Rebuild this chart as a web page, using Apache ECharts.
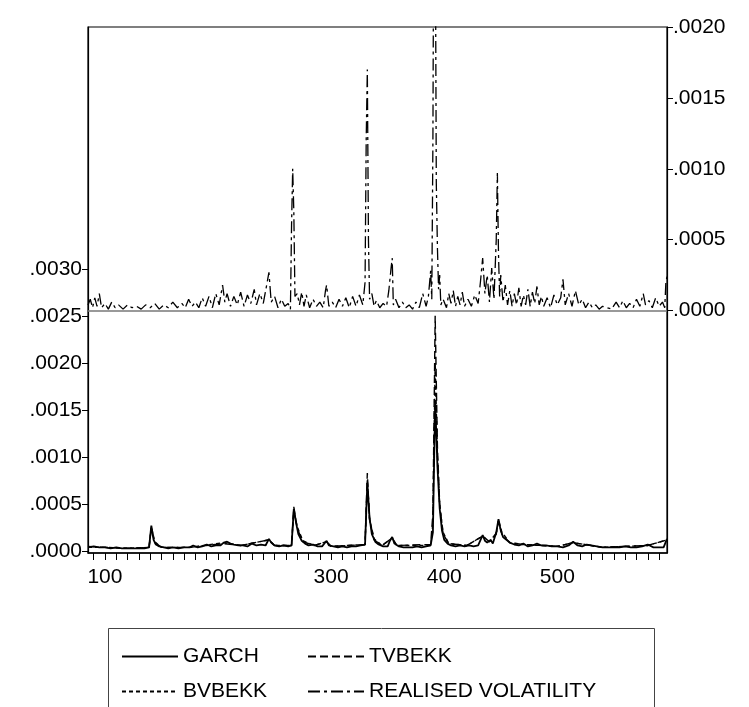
<!DOCTYPE html>
<html>
<head>
<meta charset="utf-8">
<script src="https://cdn.jsdelivr.net/npm/echarts@6/dist/echarts.min.js"></script>
<style>html,body{margin:0;padding:0;background:#fff}#chart{width:749px;height:707px}</style>
</head>
<body>
<div id="chart"></div>
<script>
// volatility panels: realised (top, right axis) vs model forecasts (bottom, left axis)
var leftTicks = [0, 0.0005, 0.001, 0.0015, 0.002, 0.0025, 0.003];
var rightTicks = [0, 0.0005, 0.001, 0.0015, 0.002];
var xLabels = [100, 200, 300, 400, 500];
var xMinorTicks = [90,100,110,120,130,140,150,160,170,180,190,200,210,220,230,240,250,260,270,280,290,300,310,320,330,340,350,360,370,380,390,400,410,420,430,440,450,460,470,480,490,500,510,520,530,540,550,560,570,580,590];

var realised = [
[85,0.00004],[87,0.00008],[89,0.00002],[91,0.00009],[93,0.00003],[95,0.00012],[97,0.00002],[100,0.00005],[103,0.00001],[106,0.00006],[109,0.00002],[112,0.00004],[116,0.00001],[120,0.00004],[124,0.00002],[128,0.00003],[132,0.00001],[136,0.00004],[140,0.00002],[144,0.00005],[148,0.00001],[152,0.00004],[156,0.00002],[160,0.00006],[164,0.00002],[168,0.00005],[171,0.00002],[174,0.00008],[177,0.00003],[180,0.00006],[183,0.00002],[186,0.00009],[189,0.00003],[192,0.00010],[195,0.00002],[198,0.00012],[201,0.00004],[204,0.00018],[206,0.00006],[208,0.00012],[211,0.00003],[214,0.00010],[217,0.00004],[220,0.00013],[223,0.00003],[226,0.00011],[229,0.00005],[232,0.00015],[234,0.00004],[237,0.00012],[240,0.00005],[243,0.00018],[245,0.00027],[247,0.00006],[250,0.00010],[253,0.00002],[256,0.00008],[259,0.00003],[262,0.00005],[264,0.00001],[265,0.00060],[266,0.00100],[267,0.00070],[268,0.00010],[270,0.00012],[272,0.00004],[274,0.00013],[276,0.00003],[278,0.00011],[281,0.00002],[284,0.00008],[287,0.00003],[290,0.00006],[293,0.00002],[295,0.00014],[296,0.00018],[298,0.00003],[301,0.00006],[304,0.00002],[307,0.00008],[310,0.00003],[313,0.00009],[316,0.00002],[319,0.00010],[322,0.00003],[325,0.00011],[328,0.00004],[330,0.00020],[331,0.00120],[332,0.00170],[333,0.00050],[334,0.00008],[336,0.00012],[338,0.00003],[340,0.00007],[343,0.00002],[346,0.00005],[349,0.00003],[351,0.00014],[353,0.00030],[354,0.00037],[355,0.00004],[357,0.00008],[360,0.00002],[363,0.00006],[366,0.00002],[369,0.00004],[372,0.00001],[375,0.00006],[378,0.00002],[381,0.00012],[384,0.00003],[386,0.00010],[388,0.00028],[389,0.00008],[390,0.00120],[391,0.00350],[392,0.00300],[393,0.00090],[394,0.00044],[395,0.00015],[396,0.00025],[397,0.00004],[399,0.00008],[402,0.00002],[404,0.00012],[406,0.00005],[408,0.00014],[410,0.00003],[412,0.00010],[414,0.00004],[416,0.00013],[418,0.00003],[421,0.00008],[424,0.00003],[427,0.00011],[430,0.00005],[432,0.00020],[434,0.00037],[436,0.00012],[438,0.00025],[440,0.00006],[442,0.00030],[444,0.00008],[446,0.00050],[447,0.00097],[448,0.00040],[449,0.00010],[450,0.00025],[452,0.00006],[454,0.00018],[456,0.00004],[458,0.00014],[460,0.00003],[462,0.00012],[464,0.00004],[466,0.00016],[468,0.00003],[470,0.00011],[472,0.00004],[474,0.00015],[476,0.00003],[478,0.00013],[480,0.00005],[482,0.00017],[484,0.00004],[486,0.00010],[488,0.00003],[491,0.00009],[494,0.00002],[497,0.00011],[500,0.00004],[503,0.00009],[505,0.00022],[507,0.00004],[510,0.00012],[513,0.00003],[516,0.00014],[519,0.00004],[522,0.00008],[525,0.00002],[528,0.00006],[531,0.00002],[534,0.00004],[537,0.00001],[540,0.00003],[544,0.00002],[548,0.00001],[552,0.00006],[555,0.00002],[558,0.00007],[561,0.00002],[564,0.00005],[567,0.00002],[570,0.00008],[573,0.00003],[576,0.00012],[578,0.00004],[581,0.00007],[584,0.00002],[587,0.00009],[590,0.00003],[593,0.00006],[595,0.00002],[596,0.00020],[597,0.00024]
];

var garch = [
[85,0.00004],[90,0.00005],[95,0.00004],[100,0.00004],[105,0.00003],[110,0.00004],[115,0.00003],[120,0.00003],[125,0.00003],[130,0.00003],[135,0.00003],[139,0.00004],[141,0.00027],[143,0.00012],[145,0.00007],[148,0.00005],[152,0.00004],[156,0.00003],[160,0.00004],[165,0.00003],[170,0.00004],[175,0.00004],[178,0.00006],[182,0.00004],[186,0.00005],[190,0.00007],[194,0.00005],[198,0.00006],[202,0.00006],[205,0.00009],[208,0.00010],[211,0.00008],[214,0.00007],[218,0.00006],[222,0.00006],[226,0.00005],[230,0.00008],[234,0.00006],[238,0.00007],[242,0.00006],[245,0.00013],[247,0.00009],[250,0.00006],[254,0.00005],[258,0.00006],[262,0.00005],[265,0.00006],[267,0.00045],[269,0.00030],[271,0.00018],[274,0.00011],[277,0.00008],[280,0.00006],[284,0.00007],[288,0.00005],[292,0.00005],[296,0.00011],[298,0.00006],[302,0.00005],[306,0.00004],[310,0.00005],[314,0.00004],[318,0.00005],[322,0.00005],[326,0.00006],[330,0.00007],[332,0.00072],[334,0.00035],[336,0.00018],[339,0.00010],[342,0.00007],[346,0.00005],[350,0.00005],[352,0.00011],[354,0.00015],[356,0.00008],[360,0.00005],[364,0.00004],[368,0.00004],[372,0.00004],[376,0.00005],[380,0.00004],[384,0.00005],[388,0.00006],[390,0.00020],[392,0.00160],[394,0.00090],[396,0.00045],[398,0.00022],[400,0.00012],[403,0.00008],[406,0.00006],[410,0.00005],[414,0.00006],[418,0.00005],[422,0.00006],[426,0.00005],[430,0.00006],[434,0.00017],[436,0.00011],[438,0.00009],[441,0.00012],[443,0.00008],[446,0.00020],[448,0.00034],[450,0.00022],[452,0.00015],[455,0.00012],[458,0.00009],[462,0.00007],[466,0.00006],[470,0.00008],[474,0.00005],[478,0.00006],[482,0.00008],[486,0.00006],[490,0.00006],[495,0.00005],[500,0.00005],[505,0.00004],[510,0.00006],[514,0.00010],[518,0.00006],[522,0.00005],[526,0.00007],[530,0.00006],[535,0.00005],[540,0.00004],[545,0.00004],[550,0.00004],[555,0.00004],[560,0.00005],[565,0.00004],[570,0.00004],[575,0.00005],[580,0.00007],[585,0.00004],[590,0.00004],[594,0.00004],[597,0.00013]
];

var tvbekk = [
[85,0.00005],[100,0.00004],[120,0.00003],[139,0.00004],[141,0.00025],[144,0.00009],[150,0.00004],[175,0.00004],[205,0.00008],[220,0.00006],[245,0.00012],[250,0.00006],[265,0.00006],[267,0.00047],[270,0.00024],[275,0.00010],[285,0.00006],[296,0.00010],[300,0.00005],[330,0.00007],[332,0.00083],[334,0.00033],[338,0.00012],[345,0.00006],[354,0.00014],[358,0.00006],[388,0.00007],[390,0.00040],[392,0.00250],[394,0.00110],[396,0.00050],[399,0.00018],[404,0.00008],[420,0.00006],[434,0.00016],[440,0.00010],[446,0.00018],[448,0.00032],[451,0.00018],[458,0.00009],[470,0.00007],[500,0.00005],[514,0.00009],[540,0.00004],[580,0.00006],[597,0.00012]
];

var bvbekk = [
[85,0.00004],[100,0.00004],[120,0.00003],[139,0.00004],[141,0.00026],[144,0.00010],[150,0.00004],[175,0.00004],[205,0.00009],[220,0.00006],[245,0.00012],[250,0.00006],[265,0.00006],[267,0.00044],[270,0.00026],[275,0.00011],[285,0.00006],[296,0.00010],[300,0.00005],[330,0.00007],[332,0.00076],[334,0.00034],[338,0.00013],[345,0.00006],[354,0.00014],[358,0.00006],[388,0.00006],[390,0.00030],[392,0.00200],[394,0.00100],[396,0.00048],[399,0.00020],[404,0.00008],[420,0.00006],[434,0.00016],[440,0.00010],[446,0.00019],[448,0.00033],[451,0.00020],[458,0.00009],[470,0.00007],[500,0.00005],[514,0.00009],[540,0.00004],[580,0.00006],[597,0.00012]
];

var FONT = '"Liberation Sans", Arial, sans-serif';
function fmt(v) { return v.toFixed(4).replace(/^0/, ''); }

var chart = echarts.init(document.getElementById('chart'), null, {renderer: 'canvas'});

var legendBase = {
    orient: 'vertical', top: 641, itemWidth: 56, itemHeight: 20, itemGap: 14,
    itemStyle: {opacity: 0},
    textStyle: {fontSize: 21, color: '#000', fontFamily: FONT}
};

var option = {
    animation: false,
    backgroundColor: '#fff',
    textStyle: {fontFamily: FONT},
    grid: {
        left: 88, right: 82, top: 27, bottom: 154,
        show: true, borderColor: '#000', borderWidth: 1.2, backgroundColor: 'transparent'
    },
    xAxis: {
        type: 'value', min: 85, max: 597,
        axisLine: {show: true, onZero: false, lineStyle: {color: '#000', width: 1.5}},
        axisTick: {show: true, inside: false, length: 7, customValues: xMinorTicks, lineStyle: {color: '#000'}},
        axisLabel: {customValues: xLabels, fontSize: 21, color: '#000', margin: 14, fontFamily: FONT},
        splitLine: {show: false}
    },
    yAxis: [
        {
            type: 'value', position: 'left', min: -0.00002, max: 0.00557,
            axisLine: {show: true, lineStyle: {color: '#000', width: 1.2}},
            axisTick: {show: true, length: 6, customValues: leftTicks, lineStyle: {color: '#000'}},
            axisLabel: {customValues: leftTicks, formatter: fmt, fontSize: 21, color: '#000', margin: 6, fontFamily: FONT},
            splitLine: {show: false}
        },
        {
            type: 'value', position: 'right', min: -0.00171, max: 0.002,
            axisLine: {show: true, lineStyle: {color: '#000', width: 1.2}},
            axisTick: {show: true, length: 6, customValues: rightTicks, lineStyle: {color: '#000'}},
            axisLabel: {customValues: rightTicks, formatter: fmt, fontSize: 21, color: '#000', margin: 6, fontFamily: FONT},
            splitLine: {show: false}
        }
    ],
    legend: [
        Object.assign({left: 116, data: ['GARCH', 'BVBEKK']}, legendBase),
        Object.assign({left: 302, data: ['TVBEKK', 'REALISED VOLATILITY']}, legendBase)
    ],
    graphic: [{
        type: 'rect', left: 106, top: 626,
        shape: {width: 546, height: 100},
        style: {fill: 'none', stroke: '#444', lineWidth: 1}
    }],
    series: [
        {
            name: 'REALISED VOLATILITY', type: 'line', yAxisIndex: 1, data: realised,
            symbol: 'none', clip: true,
            lineStyle: {color: '#000', width: 1.3, type: [12, 4, 3, 4]},
            markLine: {
                silent: true, symbol: 'none', label: {show: false},
                lineStyle: {color: '#777', width: 1.5, type: 'solid'},
                data: [{yAxis: 0}]
            }
        },
        {
            name: 'BVBEKK', type: 'line', data: bvbekk, symbol: 'none', clip: true,
            lineStyle: {color: '#000', width: 1.4, type: [4, 3]}
        },
        {
            name: 'TVBEKK', type: 'line', data: tvbekk, symbol: 'none', clip: true,
            lineStyle: {color: '#000', width: 1.4, type: [8, 4]}
        },
        {
            name: 'GARCH', type: 'line', data: garch, symbol: 'none', clip: true,
            lineStyle: {color: '#000', width: 1.8, type: 'solid'}
        }
    ]
};
chart.setOption(option);
</script>
</body>
</html>
